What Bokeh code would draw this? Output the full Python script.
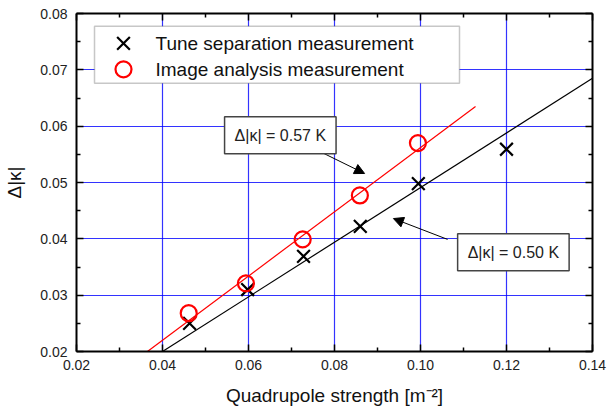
from bokeh.plotting import figure
from bokeh.models import (Label, Arrow, NormalHead, LinearAxis, BoxAnnotation,
                          FixedTicker, NumeralTickFormatter, CustomJSTickFormatter, Range1d)
from bokeh.embed import file_html
from bokeh.resources import INLINE

# ---- data ----
quad_tune = [0.0463, 0.0598, 0.0728, 0.0860, 0.0995, 0.1200]
dk_tune = [0.0250, 0.0310, 0.0369, 0.0422, 0.0498, 0.0559]

quad_image = [0.0461, 0.0594, 0.0726, 0.0859, 0.0994]
dk_image = [0.0268, 0.0321, 0.0399, 0.0477, 0.0570]

fit_tune_x = [0.0400, 0.1400]
fit_tune_y = [0.0200, 0.0685]
fit_image_x = [0.0365, 0.1128]
fit_image_y = [0.0200, 0.0635]

x_ticks = [0.02, 0.04, 0.06, 0.08, 0.10, 0.12, 0.14]
x_minor = [0.03, 0.05, 0.07, 0.09, 0.11, 0.13]
y_ticks = [0.02, 0.03, 0.04, 0.05, 0.06, 0.07, 0.08]
y_minor = [0.025, 0.035, 0.045, 0.055, 0.065, 0.075]
grid_x = [0.04, 0.06, 0.08, 0.10, 0.12]
grid_y = [0.03, 0.04, 0.05, 0.06, 0.07]

label_tune = "Tune separation measurement"
label_image = "Image analysis measurement"
note_image = "Δ|κ| = 0.57 K"
note_tune = "Δ|κ| = 0.50 K"

FONT = "Liberation Sans"

p = figure(width=607, height=416, output_backend="svg", toolbar_location=None,
           x_range=Range1d(0.02, 0.14), y_range=Range1d(0.02, 0.08),
           min_border_left=76, min_border_right=15, min_border_top=13, min_border_bottom=65,
           x_axis_label="Quadrupole strength [m⁻²]", y_axis_label="Δ|κ|")
p.outline_line_color = None
p.background_fill_color = "white"
p.border_fill_color = "white"

# grid
p.xgrid.ticker = FixedTicker(ticks=grid_x)
p.ygrid.ticker = FixedTicker(ticks=grid_y)
for g in (p.xgrid, p.ygrid):
    g.grid_line_color = "#0000ff"
    g.grid_line_alpha = 0.8
    g.grid_line_width = 1.2

# main axes
fmt = NumeralTickFormatter(format="0.00")
p.xaxis.ticker = FixedTicker(ticks=x_ticks, minor_ticks=x_minor)
p.yaxis.ticker = FixedTicker(ticks=y_ticks, minor_ticks=y_minor)
p.xaxis.formatter = fmt
p.yaxis.formatter = fmt

def style_axis(ax, labels=True):
    ax.axis_line_width = 2
    ax.axis_line_color = "black"
    ax.major_tick_in = 7
    ax.major_tick_out = 0
    ax.minor_tick_in = 4
    ax.minor_tick_out = 0
    ax.major_tick_line_width = 1.5
    ax.minor_tick_line_width = 1.5
    ax.major_tick_line_color = "black"
    ax.minor_tick_line_color = "black"
    if labels:
        ax.major_label_text_font = FONT
        ax.major_label_text_font_size = "14px"
        ax.major_label_text_color = "#222222"
        ax.axis_label_text_font = FONT
        ax.axis_label_text_font_size = "19px"
        ax.axis_label_text_font_style = "normal"
        ax.axis_label_text_color = "#111111"
    else:
        ax.formatter = CustomJSTickFormatter(code="return ''")
        ax.major_label_standoff = 0

style_axis(p.xaxis[0])
style_axis(p.yaxis[0])
p.xaxis.major_label_standoff = 8
p.yaxis.major_label_standoff = 9
p.xaxis.axis_label_standoff = 12
p.yaxis.axis_label_standoff = 12

top = LinearAxis(ticker=FixedTicker(ticks=x_ticks, minor_ticks=x_minor))
right = LinearAxis(ticker=FixedTicker(ticks=y_ticks, minor_ticks=y_minor))
style_axis(top, labels=False)
style_axis(right, labels=False)
p.add_layout(top, "above")
p.add_layout(right, "right")

# fit lines
p.line(fit_tune_x, fit_tune_y, line_color="black", line_width=1.2)
p.line(fit_image_x, fit_image_y, line_color="#ff0000", line_width=1.2)

# data points
TUNE_STYLE = dict(marker="x", size=18, line_color="black", line_width=2.2)
IMAGE_STYLE = dict(marker="circle", size=16, line_color="#ff0000", fill_color=None, line_width=2.2)
p.scatter(quad_tune, dk_tune, **TUNE_STYLE)
p.scatter(quad_image, dk_image, **IMAGE_STYLE)

# annotations (arrows + boxed labels)
p.add_layout(Arrow(end=NormalHead(size=10, fill_color="black", line_color="black"),
                   x_start=0.0774, y_start=0.0552, x_end=0.0870, y_end=0.0516,
                   line_color="black", line_width=1))
p.add_layout(Arrow(end=NormalHead(size=10, fill_color="black", line_color="black"),
                   x_start=0.1063, y_start=0.0399, x_end=0.0937, y_end=0.0436,
                   line_color="black", line_width=1))

for txt, xx, yy in ((note_image, 0.0674, 0.05837), (note_tune, 0.1216, 0.0376)):
    p.add_layout(Label(x=xx, y=yy, text=txt, text_align="center", text_baseline="middle",
                       text_font=FONT, text_font_size="16px", text_color="#222222",
                       background_fill_color="white", border_line_color="#444444",
                       border_line_width=1.5, padding=10))

# legend (drawn as a framed box so that the key markers keep full size)
p.add_layout(BoxAnnotation(left=0.02419, right=0.10907, bottom=0.06760, top=0.07773,
                           fill_color="white", fill_alpha=1, line_color="#444444",
                           line_width=1.5))
key_x = 0.03093
text_x = 0.03837
rows_y = [0.07471, 0.07009]
k1 = p.scatter([key_x], [rows_y[0]], level="overlay", **TUNE_STYLE)
k2 = p.scatter([key_x], [rows_y[1]], level="overlay", **IMAGE_STYLE)
for txt, yy in ((label_tune, rows_y[0]), (label_image, rows_y[1])):
    lab = Label(x=text_x, y=yy, text=txt, text_align="left", text_baseline="middle",
                text_font=FONT, text_font_size="19px", text_color="#111111")
    lab.level = "overlay"
    p.add_layout(lab)

open("out.html", "w").write(file_html(p, INLINE))
